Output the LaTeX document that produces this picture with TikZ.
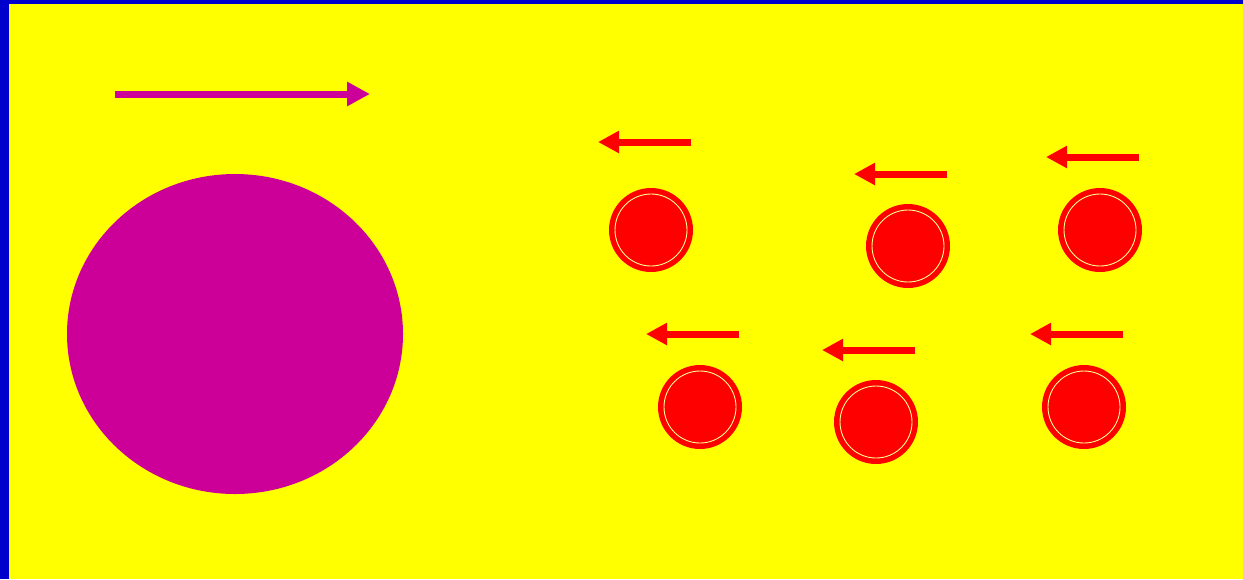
\documentclass[tikz,border=0pt]{standalone}
\usepackage{tikz}
\usetikzlibrary{arrows.meta}
\definecolor{frameblue}{RGB}{0,0,204}
\definecolor{bgyellow}{RGB}{255,255,0}
\definecolor{bigmagenta}{RGB}{204,0,153}
\definecolor{ballred}{RGB}{255,0,0}
\definecolor{ringpale}{RGB}{255,255,150}

\begin{document}
\begin{tikzpicture}[
    x=0.02cm, y=-0.02cm,
    ball/.style={circle, fill=ballred, minimum size=1.68cm, inner sep=0pt, draw=none},
    ring/.style={draw=ringpale, line width=0.5pt},
    bigarr/.style={-{Triangle[length=0.46cm, width=0.46cm]}, line width=0.14cm, bigmagenta},
    ballarr/.style={-{Triangle[length=0.42cm, width=0.42cm]}, line width=0.14cm, ballred}
]
% background and frame
\fill[frameblue] (0,0) rectangle (1243,579);
\fill[bgyellow] (9,4) rectangle (1243,579);
\useasboundingbox (0,0) rectangle (1243,579);

% big body and its arrow
\fill[bigmagenta] (235,334) ellipse [x radius=168, y radius=160];
\coordinate (bigtail) at (115,94);
\coordinate (bighead) at (370,94);
\draw[bigarr] (bigtail) -- (bighead);

% small bodies with their arrows
\foreach \n/\cx/\cy/\ax/\ay in {1/651/230/645/142, 2/908/246/901/174, 3/1100/230/1093/157,
                                 4/700/407/693/334, 5/876/422/869/350, 6/1084/407/1077/334}{
  \node[ball] (b\n) at (\cx,\cy) {};
  \draw[ring] (b\n.center) circle [radius=36];
  \coordinate (t\n) at (\ax+46,\ay);
  \coordinate (h\n) at (\ax-47,\ay);
  \draw[ballarr] (t\n) -- (h\n);
}
\end{tikzpicture}
\end{document}
